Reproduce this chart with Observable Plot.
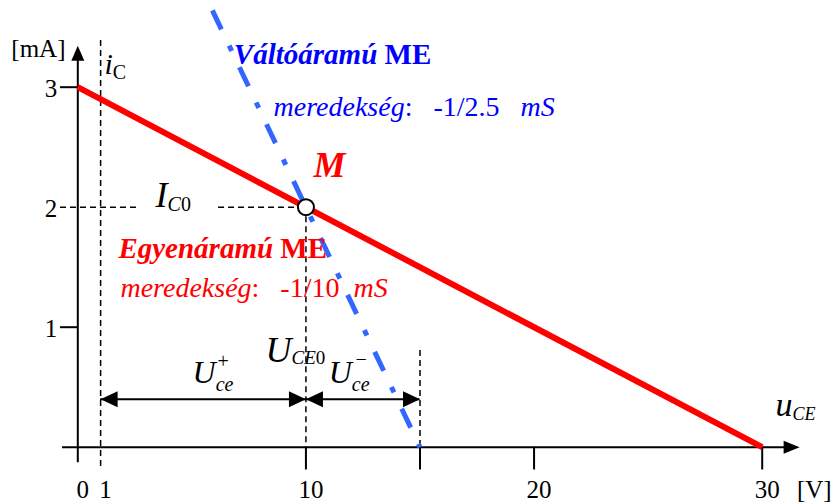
<!DOCTYPE html>
<html>
<head>
<meta charset="utf-8">
<script src="https://cdn.jsdelivr.net/npm/d3@7"></script>
<script src="https://cdn.jsdelivr.net/npm/@observablehq/plot@0.6"></script>
<style>
  html, body { margin: 0; padding: 0; background: #fff; overflow: hidden; }
</style>
</head>
<body>
<div id="chart"></div>
<script>
// Transistor stage: DC and AC load lines in the u_CE – i_C plane (u in V, i in mA)
const dcLoadU = [0, 30];        // Egyenáramú munkaegyenes, slope -1/10 mS
const dcLoadI = [3, 0];
const acLoadU = [5.9, 15];      // Váltóáramú munkaegyenes, slope -1/2.5 mS
const acLoadI = [3.64, 0];
const qU = [10];                // operating point M
const qI = [2];
const swingU = [1, 10, 15];     // U_ce+ from 1 V to 10 V, U_ce- from 10 V to 15 V
const swingI = 0.4;
const xTicks = [10, 15, 20, 30];
const xTickLabels = [0, 1, 10, 20, 30];
const yTicks = [1, 3];
const yTickLabels = [1, 2, 3];

const FONT = "'Liberation Serif', 'Times New Roman', serif";
const BLUE_LINE = "#3366ff";
const BLUE = "#0000ff";
const RED = "#ff0000";

const pts = (U, I) => U.map((u, k) => ({u, i: I[k]}));

// Rich labels: segments are [text, style (r|i|b|bi), font size, baseline shift]
const labels = [
  {u: -0.54, i: 3.255, anchor: "end", color: "black", segs: [["[mA]", "r", 25]]},
  {u: 31.52, i: -0.42, anchor: "start", color: "black", segs: [["[V]", "r", 25]]},
  {u: 1.17, i: 3.114, anchor: "start", color: "black", segs: [["i", "i", 30], ["C", "r", 20, 5]]},
  {u: 6.84, i: 3.197, anchor: "start", color: BLUE, segs: [["Váltóáramú", "bi", 29], ["\u00a0ME", "b", 29]]},
  {u: 8.58, i: 2.764, anchor: "start", color: BLUE,
    segs: [["meredekség", "i", 28], [":\u00a0\u00a0\u00a0-1/2.5\u00a0\u00a0\u00a0", "r", 28], ["mS", "i", 28]]},
  {u: 10.33, i: 2.248, anchor: "start", color: RED, segs: [["M", "bi", 36]]},
  {u: 3.41, i: 1.998, anchor: "start", color: "black", segs: [["I", "i", 36], ["C", "i", 20, 4], ["0", "r", 20, 4]]},
  {u: 1.78, i: 1.58, anchor: "start", color: RED, segs: [["Egyenáramú", "bi", 29], ["\u00a0ME", "b", 29]]},
  {u: 1.87, i: 1.248, anchor: "start", color: RED,
    segs: [["meredekség", "i", 28], [":\u00a0\u00a0\u00a0-1/10\u00a0\u00a0", "r", 28], ["mS", "i", 28]]},
  {u: 8.23, i: 0.706, anchor: "start", color: "black", segs: [["U", "i", 36], ["CE", "i", 19, 2], ["0", "r", 19, 2]]},
  {u: 5.03, i: 0.539, anchor: "start", color: "black", segs: [["U", "i", 32], ["ce", "i", 20, 8]]},
  {u: 6.12, i: 0.656, anchor: "start", color: "black", segs: [["+", "r", 20]]},
  {u: 11.0, i: 0.539, anchor: "start", color: "black", segs: [["U", "i", 32], ["ce", "i", 20, 8]]},
  {u: 12.17, i: 0.68, anchor: "start", color: "black", segs: [["\u2212", "r", 20]]},
  {u: 30.58, i: 0.264, anchor: "start", color: "black", segs: [["u", "i", 34], ["CE", "i", 18, 4]]}
];
const keyOf = d => d.segs.map(s => s[0]).join("");

// Filled arrowheads with the tip at the symbol origin
const head = (dir, L, H) => ({
  draw(ctx) {
    ctx.moveTo(0, 0);
    if (dir === "right") { ctx.lineTo(-L, -H); ctx.lineTo(-L, H); }
    else if (dir === "left") { ctx.lineTo(L, -H); ctx.lineTo(L, H); }
    else { ctx.lineTo(-H, L); ctx.lineTo(H, L); }
    ctx.closePath();
  }
});

const dash = {stroke: "black", strokeWidth: 1.5, strokeDasharray: "6,4"};
const solid = {stroke: "black", strokeWidth: 2};

const textMarks = ["start", "end"].map(anchor =>
  Plot.text(labels.filter(d => d.anchor === anchor), {
    x: "u", y: "i", text: keyOf, textAnchor: anchor, lineAnchor: "bottom",
    fontFamily: FONT, fill: "black"
  })
);

const chart = Plot.plot({
  width: 834,
  height: 503,
  marginLeft: 77.3,
  marginRight: 72.3,
  marginTop: 86.7,
  marginBottom: 56.3,
  x: {domain: [0, 30], axis: null},
  y: {domain: [0, 3], axis: null},
  style: {fontFamily: FONT, fontSize: "25px", background: "white", overflow: "visible"},
  marks: [
    // guide lines
    Plot.ruleX([{u: 1, a: 3.39, b: -0.18}, {u: 10, a: 1.92, b: 0}, {u: 15, a: 0.805, b: 0}],
      {x: "u", y1: "a", y2: "b", ...dash}),
    Plot.ruleY([{i: 2, a: -0.76, b: 2.62}, {i: 2, a: 6.17, b: 9.63}],
      {y: "i", x1: "a", x2: "b", ...dash}),
    // axes
    Plot.ruleY([0], {x1: -0.67, x2: 31.3, ...solid}),
    Plot.ruleX([0], {y1: -0.13, y2: 3.25, ...solid}),
    Plot.ruleX(xTicks, {x: d => d, y1: 0, y2: -0.19, ...solid}),
    Plot.ruleY(yTicks, {y: d => d, x1: -0.76, x2: 0, ...solid}),
    Plot.dot([0], {x: 31.64, y: 0, symbol: head("right", 16, 6.5), fill: "black", stroke: "none"}),
    Plot.dot([0], {x: 0, y: 3.345, symbol: head("up", 15, 6.5), fill: "black", stroke: "none"}),
    Plot.text(xTickLabels, {x: d => d, y: -0.42, text: d => String(d), dx: 5,
      textAnchor: "middle", lineAnchor: "bottom", fontSize: 25, fontFamily: FONT, fill: "black"}),
    Plot.text(yTickLabels, {x: -0.9, y: d => d, text: d => String(d), dy: 10,
      textAnchor: "end", lineAnchor: "bottom", fontSize: 25, fontFamily: FONT, fill: "black"}),
    // voltage swing dimension line
    Plot.ruleY([swingI], {x1: swingU[0], x2: swingU[2], ...solid}),
    Plot.dot([swingU[0], swingU[1]], {x: d => d, y: swingI, symbol: head("left", 17, 8), fill: "black", stroke: "none"}),
    Plot.dot([swingU[1], swingU[2]], {x: d => d, y: swingI, symbol: head("right", 17, 8), fill: "black", stroke: "none"}),
    // load lines
    Plot.line(pts(dcLoadU, dcLoadI), {x: "u", y: "i", stroke: RED, strokeWidth: 6, strokeLinecap: "butt"}),
    Plot.line(pts(acLoadU, acLoadI), {x: "u", y: "i", stroke: BLUE_LINE, strokeWidth: 5,
      strokeDasharray: "21,18,6,18", strokeLinecap: "butt"}),
    // operating point
    Plot.dot(pts(qU, qI), {x: "u", y: "i", r: 8, fill: "white", stroke: "black", strokeWidth: 2}),
    ...textMarks
  ]
});

// Expand the composite labels into styled tspans (italics, bold, subscripts)
const rich = new Map(labels.map(d => [keyOf(d), d]));
chart.querySelectorAll("text").forEach(t => {
  const d = rich.get(t.textContent);
  if (!d) return;
  t.textContent = "";
  let prev = 0;
  for (const [str, st, fs, sh = 0] of d.segs) {
    const ts = document.createElementNS("http://www.w3.org/2000/svg", "tspan");
    ts.textContent = str;
    ts.setAttribute("font-size", fs);
    ts.setAttribute("font-style", st.includes("i") ? "italic" : "normal");
    ts.setAttribute("font-weight", st.includes("b") ? "bold" : "normal");
    ts.setAttribute("fill", d.color);
    if (sh !== prev) ts.setAttribute("dy", sh - prev);
    prev = sh;
    t.appendChild(ts);
  }
});

document.getElementById("chart").appendChild(chart);
</script>
</body>
</html>
